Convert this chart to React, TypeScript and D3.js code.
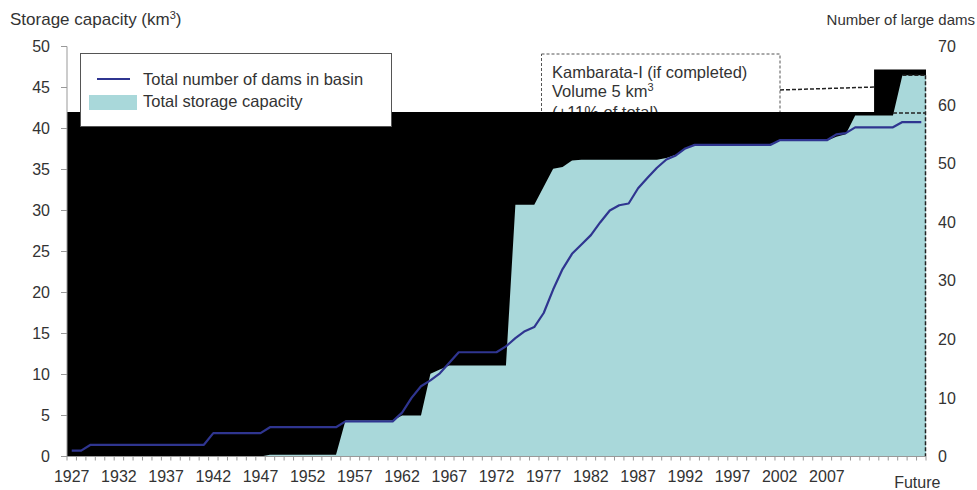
import React, { useEffect, useRef } from "react";
import * as d3 from "d3";

// categories: one band per year, last band is the "Future" scenario
const categories: string[] = d3.range(1927, 2017).map(String).concat(["Future"]);
const xTickLabels = ["1927", "1932", "1937", "1942", "1947", "1952", "1957", "1962", "1967", "1972", "1977", "1982", "1987", "1992", "1997", "2002", "2007", "Future"];
const leftTicks = [0, 5, 10, 15, 20, 25, 30, 35, 40, 45, 50];
const rightTicks = [0, 10, 20, 30, 40, 50, 60, 70];

// total storage capacity (km3), left axis
const storage = [
  0, 0, 0, 0, 0, 0, 0, 0, 0, 0, 0, 0, 0, 0, 0, 0, 0, 0, 0, 0, 0, // 1927-1947
  0.2, 0.2, 0.2, 0.2, 0.2, 0.2, 0.2, 0.2, // 1948-1955
  4.4, 4.4, 4.4, 4.4, 4.4, 4.4, // 1956-1961
  5.0, 5.0, 5.0, 10.1, 10.6, // 1962-1966
  11.1, 11.1, 11.1, 11.1, 11.1, 11.1, 11.1, // 1967-1973
  30.7, 30.7, 30.7, 32.9, 35.1, 35.3, 36.1, // 1974-1980
  36.2, 36.2, 36.2, 36.2, 36.2, 36.2, 36.2, 36.2, 36.2, // 1981-1989
  36.4, 36.8, 37.5, // 1990-1992
  38.1, 38.1, 38.1, 38.1, 38.1, 38.1, 38.1, 38.1, 38.1, // 1993-2001
  38.5, 38.5, 38.5, 38.5, 38.5, 38.5, // 2002-2007
  39.0, 39.3, // 2008-2009
  41.6, 41.6, 41.6, 41.6, 41.6, // 2010-2014
  46.5, 46.5, 46.5, // 2015, 2016, Future
];

// total number of dams in basin, right axis
const dams = [
  1, 1, // 1927-1928
  2, 2, 2, 2, 2, 2, 2, 2, 2, 2, 2, 2, 2, // 1929-1941
  4, 4, 4, 4, 4, 4, // 1942-1947
  5, 5, 5, 5, 5, 5, 5, 5, // 1948-1955
  6, 6, 6, 6, 6, 6, // 1956-1961
  7.5, 10, 12, 13, 14.2, 16, // 1962-1967
  17.8, 17.8, 17.8, 17.8, 17.8, // 1968-1972
  18.8, 20.2, 21.4, 22.1, 24.5, 28.5, 32, 34.6, 36.2, 37.8, // 1973-1982
  40, 42, 42.9, 43.2, 45.8, 47.6, 49.3, 50.7, 51.4, 52.6, // 1983-1992
  53.2, 53.2, 53.2, 53.2, 53.2, 53.2, 53.2, 53.2, 53.2, // 1993-2001
  54, 54, 54, 54, 54, 54, // 2002-2007
  55, 55.2, // 2008-2009
  56.2, 56.2, 56.2, 56.2, 56.2, // 2010-2014
  57.1, 57.1, 57.1, // 2015, 2016, Future
];

// dark backdrop layer behind the storage area (left axis units)
const backdrop = [
  ...Array(85).fill(42),
  47.2, 47.2, 47.2, 47.2, 47.2, 47.2,
];

const kambarataBase = 41.9;
const kambarataTop = 46.5;

const W = 977;
const H = 490;
const plot = { left: 67, right: 926, top: 46.5, bottom: 456.5 };
const FONT = "'Liberation Sans', Arial, sans-serif";
const TEXT = "#333";
const TEAL = "#a9d8da";
const NAVY = "#2f3590";

const App = () => {
  const ref = useRef<SVGSVGElement>(null);

  useEffect(() => {
    const svg = d3.select(ref.current);
    svg.selectAll("*").remove();

    const x = d3.scaleBand<string>().domain(categories).range([plot.left, plot.right]).padding(0);
    const yL = d3.scaleLinear().domain([0, 50]).range([plot.bottom, plot.top]);
    const yR = d3.scaleLinear().domain([0, 70]).range([plot.bottom, plot.top]);
    const cx = (i: number) => (x(categories[i]) as number) + x.bandwidth() / 2;

    // points at band centres, stretched to both plot edges
    const edgePts = (vals: number[]) => [
      { px: plot.left, v: vals[0] },
      ...vals.map((v, i) => ({ px: cx(i), v })),
      { px: plot.right, v: vals[vals.length - 1] },
    ];

    svg.append("rect").attr("width", W).attr("height", H).attr("fill", "#fff");

    // annotation box (partly hidden by the backdrop)
    const note = svg.append("g").attr("font-family", FONT).attr("font-size", 16.5).attr("fill", TEXT);
    note.append("rect")
      .attr("x", 541.5).attr("y", 54).attr("width", 238.5).attr("height", 80)
      .attr("fill", "#fff").attr("stroke", "#555").attr("stroke-dasharray", "3,2");
    note.append("text").attr("x", 552).attr("y", 78).text("Kambarata-I (if completed)");
    const vol = note.append("text").attr("x", 552).attr("y", 97);
    vol.append("tspan").text("Volume 5 km");
    vol.append("tspan").attr("font-size", 11).attr("dy", -6).text("3");
    note.append("text").attr("x", 552).attr("y", 118).text("(+11% of total)");
    note.append("line")
      .attr("x1", 780).attr("y1", 90).attr("x2", cx(85)).attr("y2", 87)
      .attr("stroke", "#222").attr("stroke-width", 1.5).attr("stroke-dasharray", "4,2");

    // backdrop
    svg.append("path")
      .datum(edgePts(backdrop))
      .attr("fill", "#000")
      .attr("d", d3.area<{ px: number; v: number }>()
        .x(d => d.px).y0(yL(0)).y1(d => yL(d.v)).curve(d3.curveStepAfter));

    // storage area
    svg.append("path")
      .datum(edgePts(storage))
      .attr("fill", TEAL)
      .attr("d", d3.area<{ px: number; v: number }>()
        .x(d => d.px).y0(yL(0)).y1(d => yL(d.v)));

    // future (Kambarata) outline
    const dash = svg.append("g").attr("stroke", "#222").attr("stroke-width", 1.5).attr("stroke-dasharray", "4,2").attr("fill", "none");
    dash.append("line").attr("x1", cx(87)).attr("x2", plot.right - 0.5).attr("y1", yL(kambarataBase)).attr("y2", yL(kambarataBase));
    dash.append("line").attr("x1", cx(88)).attr("x2", plot.right - 0.5).attr("y1", yL(kambarataTop)).attr("y2", yL(kambarataTop));
    dash.append("line").attr("x1", plot.right - 0.5).attr("x2", plot.right - 0.5).attr("y1", yL(kambarataTop)).attr("y2", yL(0));

    // dams line
    svg.append("path")
      .datum(dams)
      .attr("fill", "none")
      .attr("stroke", NAVY)
      .attr("stroke-width", 2.2)
      .attr("stroke-linejoin", "round")
      .attr("d", d3.line<number>().x((d, i) => cx(i)).y(d => yR(d)));

    // axes
    const axes = svg.append("g").attr("stroke", "#999").attr("stroke-width", 1);
    axes.append("line").attr("x1", plot.left).attr("x2", plot.left).attr("y1", yL(50)).attr("y2", yL(0));
    axes.append("line").attr("x1", plot.left).attr("x2", plot.right).attr("y1", yL(0)).attr("y2", yL(0));
    leftTicks.forEach(t => {
      axes.append("line").attr("x1", plot.left - 6).attr("x2", plot.left).attr("y1", yL(t)).attr("y2", yL(t));
    });
    categories.forEach(c => {
      const bx = x(c) as number;
      axes.append("line").attr("x1", bx).attr("x2", bx).attr("y1", yL(0)).attr("y2", yL(0) + 4);
    });
    axes.append("line").attr("x1", plot.right).attr("x2", plot.right).attr("y1", yL(0)).attr("y2", yL(0) + 4);

    const labels = svg.append("g").attr("font-family", FONT).attr("fill", TEXT).attr("font-size", 16);
    leftTicks.forEach(t => {
      labels.append("text").attr("x", 50).attr("y", yL(t)).attr("dy", "0.35em").attr("text-anchor", "end").text(t);
    });
    rightTicks.forEach(t => {
      labels.append("text").attr("x", 938).attr("y", yR(t)).attr("dy", "0.35em").text(t);
    });
    xTickLabels.forEach(l => {
      const isFuture = l === "Future";
      labels.append("text")
        .attr("x", cx(categories.indexOf(l)) + (isFuture ? -4 : 0))
        .attr("y", isFuture ? 488 : 482)
        .attr("text-anchor", "middle")
        .text(l);
    });

    const titles = svg.append("g").attr("font-family", FONT).attr("fill", TEXT);
    const lt = titles.append("text").attr("x", 10).attr("y", 25).attr("font-size", 17);
    lt.append("tspan").text("Storage capacity (km");
    lt.append("tspan").attr("font-size", 11).attr("dy", -6).text("3");
    lt.append("tspan").attr("dy", 6).text(")");
    titles.append("text").attr("x", 975).attr("y", 25).attr("font-size", 15)
      .attr("text-anchor", "end").text("Number of large dams");

    // legend
    const lg = svg.append("g").attr("font-family", FONT).attr("fill", TEXT).attr("font-size", 16.5);
    lg.append("rect").attr("x", 80.5).attr("y", 53.5).attr("width", 311).attr("height", 73)
      .attr("fill", "#fff").attr("stroke", "#555");
    lg.append("line").attr("x1", 97).attr("x2", 130).attr("y1", 79).attr("y2", 79)
      .attr("stroke", NAVY).attr("stroke-width", 2.2);
    lg.append("text").attr("x", 143).attr("y", 85).text("Total number of dams in basin");
    lg.append("rect").attr("x", 89).attr("y", 95).attr("width", 48).attr("height", 15).attr("fill", TEAL);
    lg.append("text").attr("x", 143).attr("y", 107).text("Total storage capacity");
  }, []);

  return (
    <svg ref={ref} width={W} height={H} style={{ position: "absolute", left: 0, top: 0 }} />
  );
};

export default App;
